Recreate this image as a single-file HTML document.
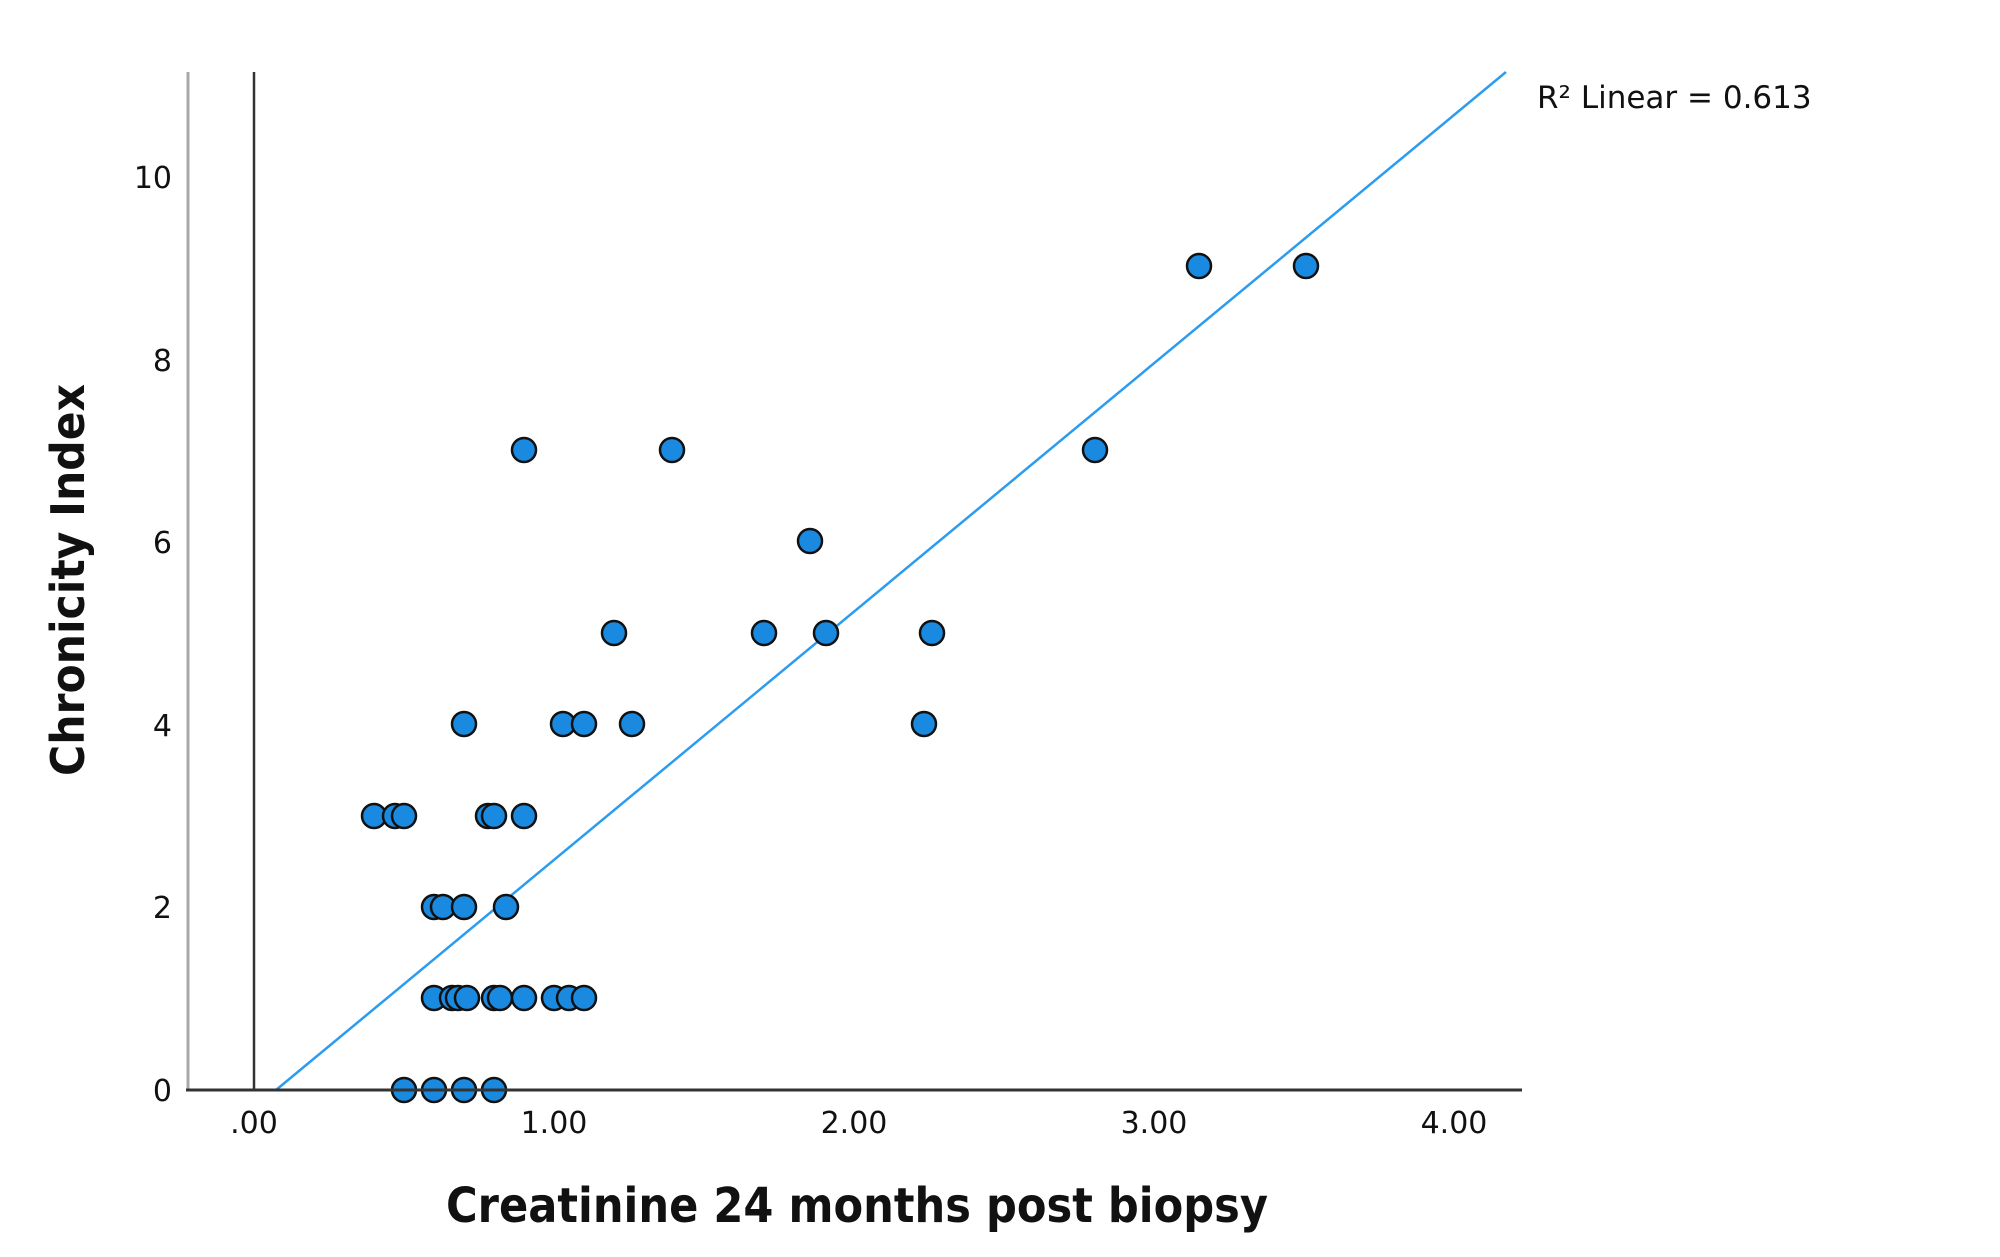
<!DOCTYPE html>
<html><head><meta charset="utf-8"><style>html,body{margin:0;padding:0;background:#fff;}svg{display:block}</style></head>
<body>
<svg width="2000" height="1257" viewBox="0 0 2000 1257" xmlns="http://www.w3.org/2000/svg" font-family="'DejaVu Sans','Liberation Sans',sans-serif">
<rect width="2000" height="1257" fill="#fff"/>
<line x1="188" y1="72" x2="188" y2="1090" stroke="#a8a8a8" stroke-width="3"/>
<line x1="254" y1="72" x2="254" y2="1090" stroke="#333" stroke-width="2.5"/>
<line x1="186" y1="1090" x2="1522" y2="1090" stroke="#333" stroke-width="3"/>
<g font-size="30" fill="#111" text-anchor="end">
<text x="172" y="1101">0</text>
<text x="172" y="918">2</text>
<text x="172" y="736">4</text>
<text x="172" y="553">6</text>
<text x="172" y="371">8</text>
<text x="172" y="188">10</text>
</g>
<g font-size="30" fill="#111" text-anchor="middle">
<text x="254" y="1133">.00</text>
<text x="554" y="1133">1.00</text>
<text x="854" y="1133">2.00</text>
<text x="1154" y="1133">3.00</text>
<text x="1454" y="1133">4.00</text>
</g>
<text x="1537" y="108" font-size="31" fill="#111">R² Linear = 0.613</text>
<line x1="276" y1="1090" x2="1506" y2="72" stroke="#2b9cf0" stroke-width="2.5"/>
<g fill="#1a8ae0" stroke="#111" stroke-width="2.5">
<circle cx="1199" cy="266" r="12"/><circle cx="1306" cy="266" r="12"/>
<circle cx="524" cy="450" r="12"/><circle cx="672" cy="450" r="12"/><circle cx="1095" cy="450" r="12"/>
<circle cx="810" cy="541" r="12"/>
<circle cx="614" cy="633" r="12"/><circle cx="764" cy="633" r="12"/><circle cx="826" cy="633" r="12"/><circle cx="932" cy="633" r="12"/>
<circle cx="464" cy="724" r="12"/><circle cx="563" cy="724" r="12"/><circle cx="584" cy="724" r="12"/><circle cx="632" cy="724" r="12"/><circle cx="924" cy="724" r="12"/>
<circle cx="374" cy="816" r="12"/><circle cx="395" cy="816" r="12"/><circle cx="404" cy="816" r="12"/><circle cx="488" cy="816" r="12"/><circle cx="494" cy="816" r="12"/><circle cx="524" cy="816" r="12"/>
<circle cx="434" cy="907" r="12"/><circle cx="443" cy="907" r="12"/><circle cx="464" cy="907" r="12"/><circle cx="506" cy="907" r="12"/>
<circle cx="434" cy="998" r="12"/><circle cx="452" cy="998" r="12"/><circle cx="458" cy="998" r="12"/><circle cx="467" cy="998" r="12"/><circle cx="494" cy="998" r="12"/><circle cx="500" cy="998" r="12"/><circle cx="524" cy="998" r="12"/><circle cx="554" cy="998" r="12"/><circle cx="569" cy="998" r="12"/><circle cx="584" cy="998" r="12"/>
<circle cx="404" cy="1090" r="12"/><circle cx="434" cy="1090" r="12"/><circle cx="464" cy="1090" r="12"/><circle cx="494" cy="1090" r="12"/>
</g>
<line x1="186" y1="1090" x2="1522" y2="1090" stroke="#333" stroke-width="3"/>
<text x="857" y="1222" font-size="48" font-weight="bold" fill="#111" text-anchor="middle" textLength="822" lengthAdjust="spacingAndGlyphs">Creatinine 24 months post biopsy</text>
<text transform="translate(84,580) rotate(-90)" font-size="46" font-weight="bold" fill="#111" text-anchor="middle" textLength="392" lengthAdjust="spacingAndGlyphs">Chronicity Index</text>
</svg>
</body></html>
